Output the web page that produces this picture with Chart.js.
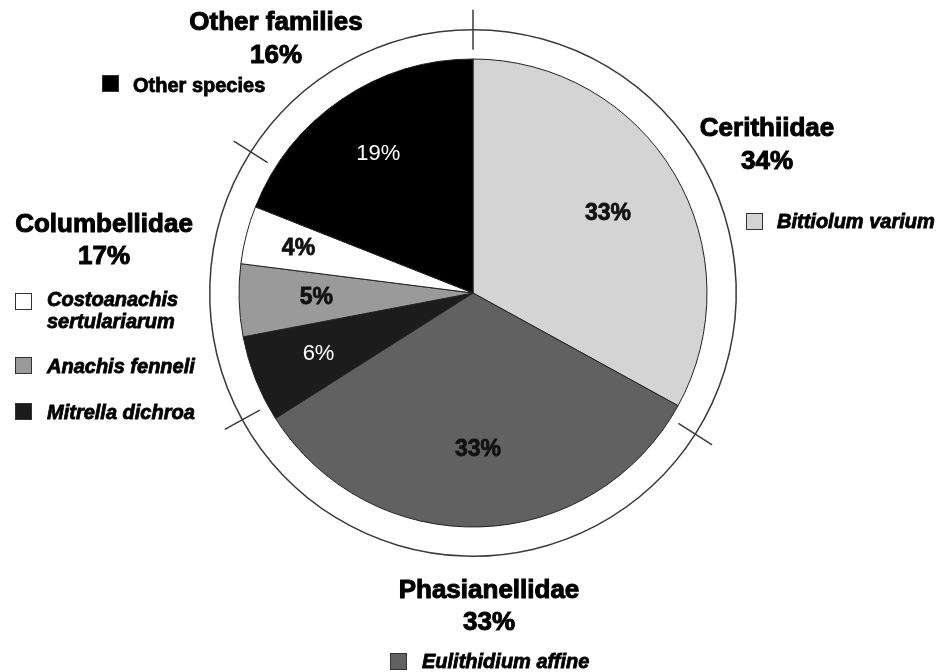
<!DOCTYPE html>
<html>
<head>
<meta charset="utf-8">
<script src="https://cdn.jsdelivr.net/npm/chart.js@4/dist/chart.umd.min.js"></script>
<style>
  html, body { margin: 0; padding: 0; background: #fff; }
  #wrap { width: 936px; height: 672px; position: relative; }
</style>
</head>
<body>
<div id="wrap"><canvas id="pie" width="936" height="672"></canvas></div>
<script>
// families (outer ring), clockwise from 12 o'clock
const families = ["Cerithiidae", "Phasianellidae", "Columbellidae", "Other families"];
const familyValues = [34, 33, 17, 16];

// species (inner pie), clockwise from 12 o'clock
const species = ["Bittiolum varium", "Eulithidium affine", "Mitrella dichroa",
  "Anachis fenneli", "Costoanachis sertulariarum", "Other species"];
const speciesValues = [33, 33, 6, 5, 4, 19];
const speciesColors = ["#d4d4d4", "#616161", "#1c1c1c", "#9a9a9a", "#ffffff", "#000000"];

const FONT = '"Liberation Sans", Arial, sans-serif';

// inner % labels: radius fraction + style per slice
const pctStyle = [
  { r: 0.67, color: "#111", font: "bold 23px " + FONT, heavy: true },
  { r: 0.67, color: "#111", font: "bold 23px " + FONT, heavy: true },
  { r: 0.71, color: "#fff", font: "22px " + FONT, heavy: false },
  { r: 0.67, color: "#111", font: "bold 23px " + FONT, heavy: true },
  { r: 0.77, color: "#111", font: "bold 23px " + FONT, heavy: true },
  { r: 0.72, color: "#fff", font: "22px " + FONT, heavy: false }
];

// where family titles go (centre x, baseline of name, baseline of %)
const familyPos = [
  { x: 767, y: 136, py: 169 },
  { x: 489, y: 598, py: 630 },
  { x: 104, y: 232, py: 264 },
  { x: 276, y: 30, py: 63 }
];

// legend entries for species: square and text placement
const legendPos = [
  { sx: 746, sy: 213, tx: 777, ty: [228], italic: true },
  { sx: 390, sy: 653, tx: 422, ty: [668], italic: true },
  { sx: 15, sy: 403, tx: 47, ty: [419], italic: true },
  { sx: 15, sy: 357, tx: 47, ty: [373], italic: true },
  { sx: 15, sy: 293, tx: 47, ty: [306, 328], italic: true },
  { sx: 102, sy: 75, tx: 133, ty: [92], italic: false }
];

// bold text in the scan is very heavy, so fill + thin stroke
function heavyText(ctx, txt, x, y, w) {
  ctx.fillText(txt, x, y);
  ctx.lineWidth = w;
  ctx.strokeStyle = ctx.fillStyle;
  ctx.strokeText(txt, x, y);
}

const decorPlugin = {
  id: "decor",
  afterDatasetsDraw(chart) {
    const ctx = chart.ctx;

    // tick marks across the family ring
    const ring = chart.getDatasetMeta(0).data;
    ctx.save();
    ctx.strokeStyle = "#3a3a3a";
    ctx.lineWidth = 1.5;
    ring.forEach(arc => {
      const p = arc.getProps(["x", "y", "startAngle", "outerRadius", "innerRadius"], true);
      const rm = (p.outerRadius + p.innerRadius) / 2;
      const c = Math.cos(p.startAngle), s = Math.sin(p.startAngle);
      ctx.beginPath();
      ctx.moveTo(p.x + c * (rm - 20), p.y + s * (rm - 20));
      ctx.lineTo(p.x + c * (rm + 20), p.y + s * (rm + 20));
      ctx.stroke();
    });
    ctx.restore();

    // percentage labels inside the slices
    const pie = chart.getDatasetMeta(2).data;
    ctx.save();
    ctx.textAlign = "center";
    ctx.textBaseline = "middle";
    pie.forEach((arc, i) => {
      const p = arc.getProps(["x", "y", "startAngle", "endAngle", "outerRadius"], true);
      const a = (p.startAngle + p.endAngle) / 2;
      const r = p.outerRadius * pctStyle[i].r;
      const st = pctStyle[i];
      ctx.fillStyle = st.color;
      ctx.font = st.font;
      const lx = p.x + Math.cos(a) * r, ly = p.y + Math.sin(a) * r;
      if (st.heavy) heavyText(ctx, speciesValues[i] + "%", lx, ly, 0.8);
      else ctx.fillText(speciesValues[i] + "%", lx, ly);
    });
    ctx.restore();

    // family titles
    ctx.save();
    ctx.fillStyle = "#000";
    ctx.textAlign = "center";
    ctx.textBaseline = "alphabetic";
    ctx.font = "bold 26px " + FONT;
    families.forEach((f, i) => {
      const fp = familyPos[i];
      heavyText(ctx, f, fp.x, fp.y, 1);
      heavyText(ctx, familyValues[i] + "%", fp.x, fp.py, 1);
    });
    ctx.restore();

    // species legend
    ctx.save();
    ctx.textAlign = "left";
    ctx.textBaseline = "alphabetic";
    species.forEach((name, i) => {
      const lp = legendPos[i];
      ctx.fillStyle = speciesColors[i];
      ctx.fillRect(lp.sx, lp.sy, 17, 17);
      ctx.strokeStyle = "#333";
      ctx.lineWidth = 1;
      ctx.strokeRect(lp.sx + 0.5, lp.sy + 0.5, 16, 16);
      ctx.fillStyle = "#000";
      ctx.font = (lp.italic ? "italic " : "") + "bold 20px " + FONT;
      const lines = lp.ty.length > 1 ? name.split(" ") : [name];
      lines.forEach((t, k) => heavyText(ctx, t, lp.tx, lp.ty[k], 0.8));
    });
    ctx.restore();
  }
};

new Chart(document.getElementById("pie"), {
  type: "pie",
  data: {
    labels: species,
    datasets: [
      {
        // thin family ring
        data: familyValues,
        backgroundColor: "#3a3a3a",
        borderWidth: 0,
        weight: 1.5
      },
      {
        // white gap between ring and pie
        data: familyValues,
        backgroundColor: "rgba(0,0,0,0)",
        borderWidth: 0,
        weight: 28.5
      },
      {
        data: speciesValues,
        backgroundColor: speciesColors,
        borderColor: "#222",
        borderWidth: 1,
        weight: 234
      }
    ]
  },
  options: {
    responsive: false,
    animation: false,
    layout: { padding: { top: 29, bottom: 115, left: 10, right: 0 } },
    plugins: {
      legend: { display: false },
      tooltip: { enabled: false }
    }
  },
  plugins: [decorPlugin]
});
</script>
</body>
</html>
